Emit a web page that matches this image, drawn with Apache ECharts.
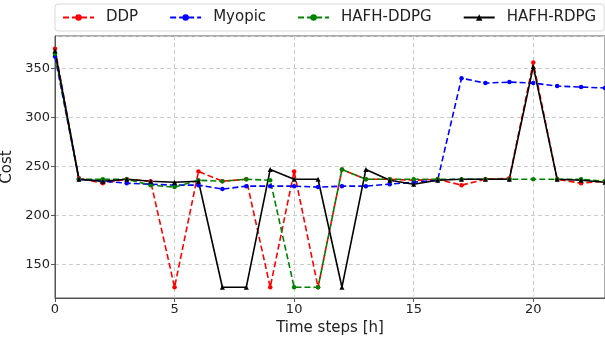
<!DOCTYPE html>
<html>
<head>
<meta charset="utf-8">
<script src="https://cdn.jsdelivr.net/npm/echarts@6/dist/echarts.min.js"></script>
<style>
  html, body { margin: 0; padding: 0; background: #fff; }
  #chart { width: 605px; height: 339px; }
</style>
</head>
<body>
<div id="chart"></div>
<script>
const hours = [0, 1, 2, 3, 4, 5, 6, 7, 8, 9, 10, 11, 12, 13, 14, 15, 16, 17, 18, 19, 20, 21, 22, 23];

const ddp = [370, 238, 233, 237, 235, 127, 245, 235, 237, 127, 245, 127, 247, 237, 237, 236, 237, 231, 237, 238, 356, 237, 233, 235];
const myopic = [362, 237, 235, 233, 232, 231, 231, 227, 230, 230, 230, 229, 230, 230, 232, 234, 236, 340, 335, 336, 335, 332, 331, 330];
const hafhDdpg = [365, 237, 237, 237, 231, 229, 236, 235, 237, 236, 127, 127, 247, 237, 237, 237, 237, 237, 237, 237, 237, 237, 237, 235];
const hafhRdpg = [368, 237, 235, 237, 235, 234, 235, 127, 127, 247, 237, 237, 127, 247, 236, 232, 236, 237, 237, 237, 352, 237, 236, 234];

const font = "DejaVu Sans";

const pairs = (vals) => hours.map((h, i) => [h, vals[i]]);

const chart = echarts.init(document.getElementById("chart"), null, { renderer: "canvas" });

const lineSeries = (name, vals, color, dashed, symbol) => ({
  name: name,
  type: "line",
  data: pairs(vals),
  symbol: symbol,
  symbolSize: symbol === "triangle" ? 5 : 4.5,
  showSymbol: true,
  animation: false,
  itemStyle: { color: color },
  lineStyle: { color: color, width: 1.6, type: dashed ? [6, 3] : "solid" },
  emphasis: { disabled: true }
});

chart.setOption({
  animation: false,
  textStyle: { fontFamily: font },
  legend: {
    left: 55,
    top: 4,
    padding: [6, 8, 6, 7],
    itemGap: 31,
    itemWidth: 31,
    itemHeight: 8,
    borderColor: "#d9d9d9",
    borderWidth: 1,
    borderRadius: 3,
    textStyle: { fontFamily: font, fontSize: 15, color: "#222", padding: [0, 0, 0, 7] },
    data: ["DDP", "Myopic", "HAFH-DDPG", "HAFH-RDPG"]
  },
  grid: {
    left: 55,
    right: 0,
    top: 36,
    bottom: 41,
    outerBoundsMode: "none",
    containLabel: false,
    show: true,
    borderColor: "#555",
    borderWidth: 1
  },
  xAxis: {
    type: "value",
    min: 0,
    max: 23,
    interval: 5,
    name: "Time steps [h]",
    nameLocation: "middle",
    nameGap: 23,
    nameTextStyle: { fontFamily: font, fontSize: 15, color: "#222" },
    axisLine: { show: true, lineStyle: { color: "#555" } },
    axisTick: { show: true, length: 4, lineStyle: { color: "#555" } },
    axisLabel: {
      fontFamily: font,
      fontSize: 13,
      color: "#222",
      margin: 5,
      formatter: (v) => (v % 5 === 0 ? String(v) : "")
    },
    splitLine: { show: true, lineStyle: { color: "#cccccc", type: [4, 3] } }
  },
  yAxis: {
    type: "value",
    min: 116,
    max: 383,
    splitNumber: 5,
    name: "Cost",
    nameLocation: "middle",
    nameGap: 32,
    nameTextStyle: { fontFamily: font, fontSize: 15, color: "#222" },
    axisLine: { show: true, lineStyle: { color: "#555" } },
    axisTick: { show: true, length: 4, lineStyle: { color: "#555" } },
    axisLabel: {
      fontFamily: font,
      fontSize: 13,
      color: "#222",
      margin: 5,
      showMinLabel: false,
      showMaxLabel: false,
      formatter: (v) => (v % 50 === 0 ? String(v) : "")
    },
    splitLine: { show: true, lineStyle: { color: "#cccccc", type: [4, 3] } }
  },
  series: [
    lineSeries("DDP", ddp, "#ff0000", true, "circle"),
    lineSeries("Myopic", myopic, "#0000ff", true, "circle"),
    lineSeries("HAFH-DDPG", hafhDdpg, "#008000", true, "circle"),
    lineSeries("HAFH-RDPG", hafhRdpg, "#000000", false, "triangle")
  ]
});
</script>
</body>
</html>
